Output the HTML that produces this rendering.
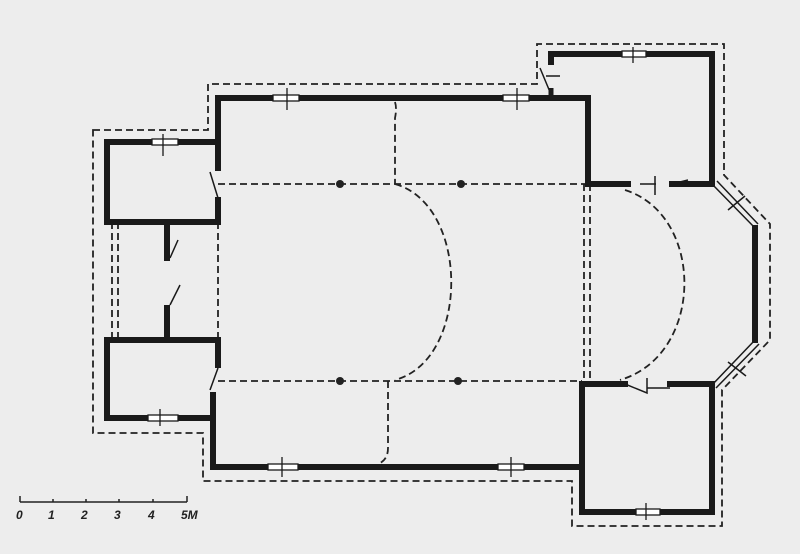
<!DOCTYPE html>
<html><head><style>html,body{margin:0;padding:0;background:#ededed}svg{display:block}</style></head>
<body>
<svg width="800" height="554" viewBox="0 0 800 554" xmlns="http://www.w3.org/2000/svg">
<rect width="800" height="554" fill="#ededed"/>
<!-- outer dashed outline -->
<g fill="none" stroke="#222" stroke-width="1.8" stroke-dasharray="7,4">
<path d="M93,130 H208 V84 H537 V44 H724 V175 L770,224 V340 L722,390 V526 H572 V481 H203 V433 H93 Z"/>
<!-- inner dashed -->
<path d="M218,184 H588"/>
<path d="M218,381 H582"/>
<path d="M395,102 Q397,108 395,118 V184"/>
<path d="M395,184 C470,205 470,360 395,380"/>
<path d="M388,381 V448 Q388,460 378,464"/>
<path d="M625,190 C705,215 705,355 620,380"/>
<path d="M584,184 V381 M590,184 V381"/>
<path d="M218,222 V340 M112,222 V340 M118,222 V340"/>
</g>
<g fill="#222"><circle cx="340" cy="184" r="4"/><circle cx="461" cy="184" r="4"/><circle cx="340" cy="381" r="4"/><circle cx="458" cy="381" r="4"/></g>
<!-- walls -->
<g fill="none" stroke="#1a1a1a" stroke-width="6" stroke-linecap="square">
<path d="M218,168 V98 H588 V184 H628"/>
<path d="M672,184 H712 V54 H551 V62"/>
<path d="M218,200 V222 H107 V142 H218"/>
<path d="M167,228 V258 M167,308 V335"/>
<path d="M218,365 V340 H107 V418 H213"/>
<path d="M213,395 V467 H582 V384 H625"/>
<path d="M670,384 H712 V512 H582 V467"/>
<path d="M755,228 V340"/>
</g>
<g stroke="#1a1a1a" stroke-width="5" fill="none"><path d="M551,98 V88"/></g>
<!-- diagonal windows -->
<g stroke="#1a1a1a" stroke-width="1.5" fill="none">
<path d="M712,184 L755,228 M717,181 L758,224"/>
<path d="M755,340 L712,385 M759,344 L716,388"/>
<path d="M728,210 L745,196 M728,362 L746,376"/>
<!-- door leaves -->
<path d="M210,172 L218,198 M210,390 L218,368 M170,258 L178,240 M170,305 L180,285"/>
<path d="M540,68 L550,92 M546,76 H560"/>
<path d="M655,176 V195 M656,184 H640 M688,180 L672,184"/>
<path d="M625,384 L647,393 V378 M647,388 H670"/>
</g>
<!-- windows on straight walls -->
<g stroke="#1a1a1a" stroke-width="1.3" fill="#fff">
<rect x="273" y="95" width="26" height="6"/><rect x="503" y="95" width="26" height="6"/>
<rect x="152" y="139" width="26" height="6"/><rect x="148" y="415" width="30" height="6"/>
<rect x="268" y="464" width="30" height="6"/><rect x="498" y="464" width="26" height="6"/>
<rect x="622" y="51" width="24" height="6"/><rect x="636" y="509" width="24" height="6"/>
<path d="M287,88 V110 M517,88 V110 M163,134 V156 M160,409 V426 M282,457 V477 M511,457 V477 M633,47 V63 M646,503 V520" fill="none"/>
</g>
<!-- scale -->
<g stroke="#222" stroke-width="1.5" fill="none"><path d="M20,502 H187 M20,496 V502 M53,499 V502 M86,499 V502 M119,499 V502 M153,499 V502 M187,496 V502"/></g>
<g font-family="Liberation Sans, sans-serif" font-style="italic" font-weight="bold" font-size="12" fill="#222">
<text x="16" y="519">0</text><text x="48" y="519">1</text><text x="81" y="519">2</text><text x="114" y="519">3</text><text x="148" y="519">4</text><text x="181" y="519">5M</text>
</g>
</svg>
</body></html>
